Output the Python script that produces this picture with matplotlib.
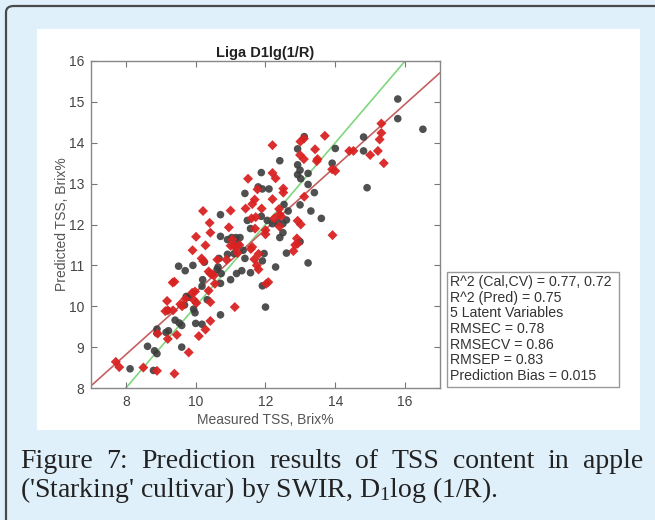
import matplotlib
matplotlib.use("Agg")
import matplotlib.pyplot as plt
from matplotlib.patches import FancyBboxPatch, Rectangle
import numpy as np

# ---------------- data ----------------
cal_x = [15.79, 15.79, 16.51, 14.81, 14.81, 14.91, 14.00, 13.91, 13.11, 12.92, 12.92, 12.99,
         12.92, 13.01, 13.22, 13.22, 13.40, 13.30, 13.60, 12.41, 11.88, 11.79, 11.91, 12.10,
         11.41, 10.71, 12.53, 12.99, 12.65, 12.60, 12.20, 12.35, 12.50, 11.88, 12.50, 12.41,
         12.60, 12.99, 13.22, 12.29, 11.91, 11.96, 11.91, 12.00, 11.57, 11.48,
         10.71, 10.91, 11.03, 11.15, 11.27, 11.21, 10.91, 10.67, 10.64, 10.61, 10.73, 11.00,
         10.71, 11.17, 11.32, 11.41, 11.36, 11.10, 11.57, 12.05,
         10.25, 9.92, 9.51, 9.70, 10.20, 10.18, 10.33, 9.73, 9.80, 9.68, 9.94, 9.98, 10.00,
         10.18, 10.71, 9.41, 9.53, 9.60, 9.60, 9.20, 9.15, 9.22, 8.89, 8.89, 8.62, 8.82,
         8.89, 8.12, 8.79]
cal_y = [15.07, 14.59, 14.33, 14.14, 13.80, 12.90, 13.86, 13.50, 14.15, 13.85, 13.46, 13.33,
         13.22, 13.12, 13.25, 12.98, 12.78, 12.33, 12.15, 13.56, 13.27, 12.92, 12.87, 12.87,
         12.76, 12.24, 12.49, 12.48, 12.33, 12.11, 12.02, 12.05, 12.02, 12.20, 11.80, 11.68,
         11.30, 11.58, 11.06, 10.96, 11.11, 11.29, 10.50, 9.98, 10.82, 12.10,
         11.71, 11.63, 11.68, 11.68, 11.68, 11.53, 11.27, 11.17, 10.96, 10.90, 10.80, 10.65,
         10.56, 10.80, 10.87, 11.17, 11.37, 11.29, 11.90, 12.10,
         11.08, 11.00, 10.98, 10.87, 10.65, 10.49, 10.16, 10.24, 10.22, 10.03, 9.93, 9.84, 9.58,
         9.56, 9.79, 9.66, 9.59, 9.53, 9.00, 9.90, 9.36, 9.40, 9.44, 9.34, 9.02, 8.91,
         8.84, 8.47, 8.43]

val_x = [15.39, 15.27, 15.32, 15.32, 15.22, 15.00, 14.52, 14.40, 14.00, 13.91, 13.92, 13.70,
         13.49, 13.42, 13.47, 13.00, 13.10, 12.99, 13.10, 13.11, 13.01, 12.92, 12.90, 12.92,
         12.80, 12.85, 12.20, 12.20, 12.29, 12.20, 12.51, 12.51, 12.39, 12.40, 12.45, 12.25,
         12.40, 11.50, 11.62, 11.69, 11.77, 11.72, 11.89, 11.43, 11.60, 11.70, 12.00, 12.00,
         11.62, 11.58, 11.80, 11.75, 11.80, 11.68, 12.08, 12.02, 11.00, 10.95, 11.00, 11.05,
         11.10, 11.15, 11.20, 11.25, 10.88, 10.62, 11.12, 10.21, 10.40, 10.42, 10.28, 10.01,
         9.91, 10.17, 10.22, 10.37, 10.42, 10.47, 10.52, 10.55, 9.34, 9.39, 9.18, 9.13, 9.20,
         9.56, 9.61, 9.70, 9.90, 9.98, 9.95, 10.02, 10.37, 10.42, 9.35, 9.46, 9.20, 8.91,
         10.09, 10.28, 10.42, 9.80, 9.39, 8.89, 8.50, 7.71, 7.81]
val_y = [13.50, 14.08, 14.24, 14.47, 13.80, 13.70, 13.80, 13.80, 13.31, 13.35, 11.74, 14.17,
         13.60, 13.84, 13.55, 14.03, 14.10, 13.70, 13.60, 12.68, 12.00, 12.09, 11.66, 11.53,
         11.35, 11.50, 13.94, 13.26, 13.13, 12.62, 12.88, 12.78, 12.38, 12.25, 12.20, 12.15,
         11.95, 13.12, 12.50, 12.61, 12.86, 12.18, 12.39, 12.39, 12.15, 11.90, 11.86, 11.76,
         11.45, 11.40, 11.28, 11.00, 10.90, 11.15, 10.59, 10.55, 12.34, 11.93, 11.48, 11.63,
         11.48, 11.43, 11.30, 11.50, 11.14, 11.14, 9.98, 12.33, 12.04, 11.80, 11.49, 11.70,
         11.37, 11.17, 11.10, 10.85, 10.80, 10.78, 10.75, 10.55, 10.58, 10.60, 10.13, 9.88, 9.90,
         10.05, 10.00, 10.18, 10.33, 10.36, 10.15, 10.08, 10.38, 10.10, 9.90, 9.30, 9.20, 9.33,
         9.27, 9.43, 9.64, 8.87, 8.35, 8.42, 8.50, 8.64, 8.51]

fit_slope = 0.766
fit_intercept = 2.69
x_lim = [7, 17]
y_lim = [8, 16]
x_ticks = [8, 10, 12, 14, 16]
y_ticks = [8, 9, 10, 11, 12, 13, 14, 15, 16]

title = "Liga D1lg(1/R)"
xlabel = "Measured TSS, Brix%"
ylabel = "Predicted TSS, Brix%"
stats_lines = ["R^2 (Cal,CV) = 0.77, 0.72", "R^2 (Pred) = 0.75", "5 Latent Variables",
               "RMSEC = 0.78", "RMSECV = 0.86", "RMSEP = 0.83", "Prediction Bias = 0.015"]
caption_line1 = "Figure 7: Prediction results of TSS content in apple"
caption_line2 = r"('Starking' cultivar) by SWIR, D$_1$log (1/R)."

# ---------------- figure ----------------
W, H = 655, 520
plt.rcParams['font.family'] = ['Liberation Sans', 'DejaVu Sans']
plt.rcParams['mathtext.fontset'] = 'custom'
plt.rcParams['mathtext.rm'] = 'Liberation Serif'
plt.rcParams['mathtext.it'] = 'Liberation Serif'

fig = plt.figure(figsize=(W / 100, H / 100), dpi=100)
fig.patch.set_facecolor('#dff0fa')

def fx(px):
    return px / W

def fy(py):
    return 1 - py / H

# outer rounded border (left and top visible)
border = FancyBboxPatch((fx(6), fy(560)), fx(700), fy(6) - fy(560),
                        boxstyle="round,pad=0,rounding_size=0.012",
                        transform=fig.transFigure, facecolor='none',
                        edgecolor='#4a4a4a', linewidth=1.6, clip_on=False, zorder=-6)
fig.patches.append(border)

# white image panel
panel = Rectangle((fx(37), fy(430)), fx(640) - fx(37), fy(29) - fy(430),
                  transform=fig.transFigure, facecolor='white', edgecolor='none', zorder=-5)
fig.patches.append(panel)

ax = fig.add_axes([fx(91), fy(388), fx(440) - fx(91), fy(61) - fy(388)])
ax.set_xlim(x_lim)
ax.set_ylim(y_lim)

xx = np.array(x_lim, dtype=float)
ax.plot(xx, xx, color='#7fd67f', lw=1.2, zorder=1)
ax.plot(xx, fit_slope * xx + fit_intercept, color='#c46060', lw=1.2, zorder=1)

ax.scatter(cal_x, cal_y, s=30, marker='o', color='#3d3d3d', alpha=0.9,
           edgecolors='none', zorder=3)
ax.scatter(val_x, val_y, s=26, marker='D', color='#d92222', alpha=0.95,
           edgecolors='none', zorder=3)

ax.set_xticks(x_ticks)
ax.set_yticks(y_ticks)
ax.tick_params(direction='in', length=4, width=0.8, colors='#777777',
               labelcolor='#444444', labelsize=10, top=True, right=True, pad=5)
for s in ax.spines.values():
    s.set_color('#888888')
    s.set_linewidth(1.0)

ax.set_title(title, fontsize=10.5, fontweight='bold', color='#222222', pad=3)
ax.set_xlabel(xlabel, fontsize=10, color='#555555', labelpad=3)
ax.set_ylabel(ylabel, fontsize=10, color='#555555', labelpad=0)

# stats box
box = Rectangle((fx(447), fy(387)), fx(619) - fx(447), fy(272) - fy(387),
                transform=fig.transFigure, facecolor='white', edgecolor='#999999', lw=1.0)
fig.patches.append(box)
for i, line in enumerate(stats_lines):
    fig.text(fx(450), fy(282 + i * 15.7), line, fontsize=10.2, color='#333333',
             ha='left', va='center')

# caption (justified first line)
cap_font = dict(family='Liberation Serif', fontsize=20, color='#222222')
fig.canvas.draw()
renderer = fig.canvas.get_renderer()
words = caption_line1.split(' ')
tmp = [fig.text(0, 0, w, **cap_font) for w in words]
widths = [t.get_window_extent(renderer).width for t in tmp]
for t in tmp:
    t.remove()
x0, x1 = 20, 643
gap = (x1 - x0 - sum(widths)) / (len(words) - 1)
xpos = x0
for w, wd in zip(words, widths):
    fig.text(fx(xpos), fy(468), w, ha='left', va='baseline', **cap_font)
    xpos += wd + gap
fig.text(fx(20), fy(497), caption_line2, ha='left', va='baseline', **cap_font)

fig.savefig('out.png', dpi=100, facecolor=fig.get_facecolor())
